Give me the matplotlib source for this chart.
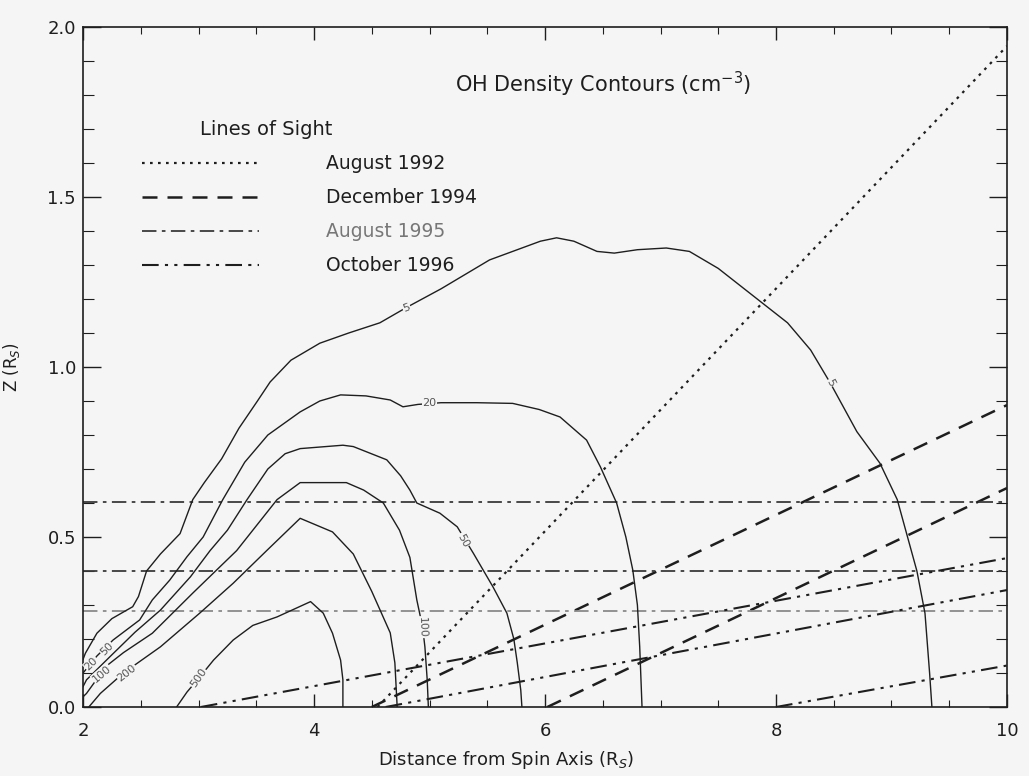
"""OH density contours with lines of sight."""

import matplotlib

matplotlib.use("Agg")
import matplotlib.pyplot as plt
from matplotlib.ticker import MultipleLocator

# contour lines: (x in R_S, z in R_S)
contour_5_x = [2.0, 2.02, 2.12, 2.25, 2.43, 2.48, 2.55, 2.67, 2.84, 2.95, 3.05, 3.2, 3.35, 3.51, 3.62, 3.8,
               4.05, 4.3, 4.57, 4.8, 5.1, 5.52, 5.96, 6.1, 6.25, 6.45, 6.6, 6.8, 7.05, 7.25, 7.5, 7.8,
               8.1, 8.3, 8.47, 8.7, 8.9, 9.05, 9.22, 9.29, 9.33, 9.35]
contour_5_z = [0.14, 0.158, 0.217, 0.26, 0.295, 0.325, 0.40, 0.45, 0.51, 0.61, 0.66, 0.73, 0.82, 0.90, 0.956,
               1.02, 1.07, 1.10, 1.13, 1.175, 1.23, 1.315, 1.37, 1.38, 1.37, 1.34, 1.335, 1.345, 1.35, 1.34,
               1.29, 1.21, 1.13, 1.05, 0.953, 0.81, 0.717, 0.61, 0.40, 0.276, 0.10, 0.0]

contour_20_x = [2.0, 2.12, 2.26, 2.49, 2.6, 2.75, 2.9, 3.04, 3.21, 3.4, 3.6, 3.88, 4.05, 4.23, 4.45, 4.66,
                4.77, 4.9, 5.1, 5.41, 5.72, 5.95, 6.13, 6.36, 6.48, 6.62, 6.7, 6.76, 6.8, 6.82, 6.84]
contour_20_z = [0.10, 0.15, 0.197, 0.256, 0.315, 0.373, 0.442, 0.5, 0.61, 0.72, 0.80, 0.868, 0.9, 0.918,
                0.915, 0.903, 0.883, 0.89, 0.895, 0.895, 0.893, 0.875, 0.853, 0.785, 0.706, 0.6, 0.5,
                0.403, 0.3, 0.177, 0.0]

contour_50_x = [2.0, 2.03, 2.23, 2.45, 2.67, 2.93, 3.1, 3.25, 3.42, 3.6, 3.75, 3.88, 4.25, 4.34, 4.63, 4.75,
                4.83, 4.89, 5.09, 5.24, 5.38, 5.55, 5.67, 5.73, 5.76, 5.79, 5.8]
contour_50_z = [0.06, 0.08, 0.147, 0.22, 0.285, 0.383, 0.46, 0.52, 0.61, 0.70, 0.745, 0.76, 0.77, 0.766,
                0.727, 0.68, 0.638, 0.6, 0.57, 0.53, 0.452, 0.353, 0.276, 0.2, 0.13, 0.05, 0.0]

contour_100_x = [2.0, 2.03, 2.2, 2.35, 2.6, 2.95, 3.33, 3.68, 3.88, 4.28, 4.43, 4.6, 4.74, 4.83, 4.89, 4.94,
                 4.96, 4.98, 4.99]
contour_100_z = [0.03, 0.04, 0.12, 0.16, 0.217, 0.335, 0.46, 0.61, 0.66, 0.66, 0.638, 0.6, 0.52, 0.44, 0.315,
                 0.235, 0.177, 0.08, 0.0]

contour_200_x = [2.05, 2.15, 2.35, 2.67, 3.01, 3.3, 3.59, 3.88, 4.16, 4.34, 4.5, 4.66, 4.7, 4.72]
contour_200_z = [0.0, 0.04, 0.1, 0.177, 0.276, 0.364, 0.46, 0.555, 0.515, 0.45, 0.34, 0.218, 0.13, 0.0]

contour_500_x = [2.81, 2.9, 3.01, 3.13, 3.3, 3.47, 3.68, 3.97, 4.08, 4.16, 4.23, 4.25, 4.25]
contour_500_z = [0.0, 0.044, 0.088, 0.138, 0.197, 0.24, 0.265, 0.31, 0.276, 0.217, 0.138, 0.08, 0.0]

# inline contour labels: text, x, z, rotation
label_text = ["5", "5", "20", "20", "50", "50", "100", "100", "200", "500"]
label_x = [4.8, 8.47, 5.0, 2.07, 5.29, 2.21, 4.94, 2.16, 2.38, 3.0]
label_z = [1.175, 0.953, 0.893, 0.128, 0.49, 0.17, 0.235, 0.098, 0.1, 0.085]
label_rot = [20, -62, 0, 45, -62, 45, -88, 40, 38, 55]

# lines of sight (end points)
aug1992_x = [[4.55, 10.0]]
aug1992_z = [[0.0, 1.944]]
dec1994_x = [[4.5, 10.0], [6.02, 10.0]]
dec1994_z = [[0.0, 0.888], [0.0, 0.644]]
aug1995_z = [0.603, 0.40, 0.282]
oct1996_x = [[3.02, 10.0], [4.62, 10.0], [8.0, 10.0]]
oct1996_z = [[0.0, 0.438], [0.0, 0.344], [0.0, 0.122]]

legend_names = ["August 1992", "December 1994", "August 1995", "October 1996"]
legend_z = [1.6, 1.5, 1.4, 1.3]

BG = "#f5f5f5"
INK = "#1e1e1e"
DOTTED = (0, (1.2, 2.4))
DASHED = (0, (6, 4))
DASHDOT = (0, (8, 3, 2, 3))
DASHDOTDOT = (0, (8, 3, 1.5, 3, 1.5, 3))


def main() -> None:
    fig = plt.figure(figsize=(10.29, 7.76), dpi=100, facecolor=BG)
    ax = fig.add_axes([0.0807, 0.0889, 0.8979, 0.8763], facecolor=BG)

    contours = [
        (contour_5_x, contour_5_z),
        (contour_20_x, contour_20_z),
        (contour_50_x, contour_50_z),
        (contour_100_x, contour_100_z),
        (contour_200_x, contour_200_z),
        (contour_500_x, contour_500_z),
    ]
    for cx, cz in contours:
        ax.plot(cx, cz, color=INK, lw=1.0, zorder=3)

    for t, x, z, r in zip(label_text, label_x, label_z, label_rot):
        ax.text(x, z, t, fontsize=8, color="#555555", rotation=r, ha="center", va="center",
                rotation_mode="anchor", zorder=4,
                bbox=dict(boxstyle="square,pad=0.05", fc=BG, ec="none"))

    for xs, zs in zip(aug1992_x, aug1992_z):
        ax.plot(xs, zs, color=INK, lw=1.6, linestyle=DOTTED, zorder=2)
    for xs, zs in zip(dec1994_x, dec1994_z):
        ax.plot(xs, zs, color=INK, lw=1.8, linestyle=DASHED, zorder=2)
    for i, z in enumerate(aug1995_z):
        col = "#3a3a3a" if i < 2 else "#8a8a8a"
        ax.plot([2.0, 10.0], [z, z], color=col, lw=1.3, linestyle=DASHDOT, zorder=2)
    for xs, zs in zip(oct1996_x, oct1996_z):
        ax.plot(xs, zs, color=INK, lw=1.5, linestyle=DASHDOTDOT, zorder=2)

    # legend drawn in data space like the original
    styles = [(DOTTED, 1.6, INK), (DASHED, 1.8, INK), (DASHDOT, 1.3, "#3a3a3a"), (DASHDOTDOT, 1.5, INK)]
    ax.text(3.01, 1.70, "Lines of Sight", fontsize=14, color=INK, va="center")
    for name, z, (ls, lw, col) in zip(legend_names, legend_z, styles):
        ax.plot([2.51, 3.52], [z, z], color=col, lw=lw, linestyle=ls)
        tcol = "#777777" if name == "August 1995" else INK
        ax.text(4.1, z, name, fontsize=13.5, color=tcol, va="center")

    ax.text(6.5, 1.83, "OH Density Contours (cm$^{-3}$)", fontsize=15, color=INK,
            ha="center", va="center")

    ax.set_xlim(2, 10)
    ax.set_ylim(0, 2.0)
    ax.xaxis.set_major_locator(MultipleLocator(2))
    ax.xaxis.set_minor_locator(MultipleLocator(0.5))
    ax.yaxis.set_major_locator(MultipleLocator(0.5))
    ax.yaxis.set_minor_locator(MultipleLocator(0.1))
    ax.yaxis.set_major_formatter(plt.FormatStrFormatter("%.1f"))
    ax.tick_params(axis="x", which="major", direction="in", length=9.5, width=1.0, top=True,
                   labelsize=13, pad=11, colors=INK)
    ax.tick_params(axis="x", which="minor", direction="in", length=5, width=0.8, top=True, colors=INK)
    ax.tick_params(axis="y", which="major", direction="in", length=13, width=1.0, right=True,
                   labelsize=13, pad=5, colors=INK)
    ax.tick_params(axis="y", which="minor", direction="in", length=8, width=0.8, right=True, colors=INK)
    for sp in ax.spines.values():
        sp.set_linewidth(1.2)
        sp.set_color(INK)

    ax.set_xlabel("Distance from Spin Axis (R$_S$)", fontsize=13, color=INK)
    ax.xaxis.set_label_coords(0.458, -0.062)
    ax.set_ylabel("Z (R$_S$)", fontsize=12, color=INK)
    ax.yaxis.set_label_coords(-0.066, 0.5)

    fig.savefig("out.png", dpi=100, facecolor=BG)
    plt.close(fig)


if __name__ == "__main__":
    main()
